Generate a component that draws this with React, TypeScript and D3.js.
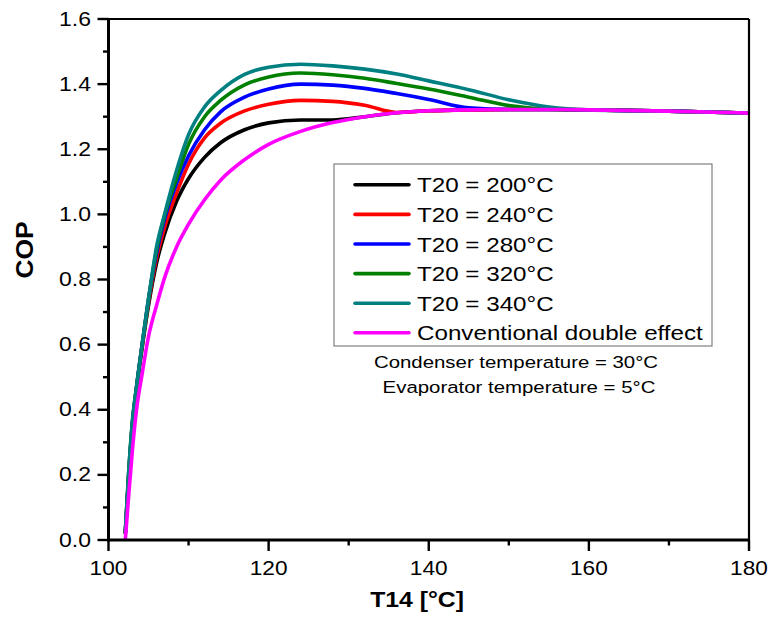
import React from "react";
import * as d3 from "d3";

const xs = [102.1, 102.5, 103, 103.5, 104.2, 105, 106, 107, 108.5, 110, 112, 114, 117, 120, 124, 128, 132, 136, 140, 145, 150, 155, 160, 170, 180];

const copT200 = [0.02, 0.18, 0.35, 0.46, 0.59, 0.72, 0.85, 0.94, 1.04, 1.11, 1.175, 1.22, 1.26, 1.281, 1.29, 1.29, 1.30, 1.312, 1.318, 1.321, 1.322, 1.322, 1.321, 1.317, 1.311];
const copT240 = [0.02, 0.19, 0.36, 0.465, 0.595, 0.73, 0.865, 0.96, 1.065, 1.155, 1.235, 1.28, 1.318, 1.338, 1.350, 1.347, 1.335, 1.313, 1.318, 1.321, 1.322, 1.322, 1.321, 1.317, 1.311];
const copT280 = [0.02, 0.19, 0.36, 0.47, 0.60, 0.74, 0.88, 0.985, 1.095, 1.18, 1.26, 1.315, 1.36, 1.385, 1.40, 1.397, 1.387, 1.371, 1.353, 1.327, 1.322, 1.322, 1.321, 1.317, 1.311];
const copT320 = [0.02, 0.20, 0.365, 0.47, 0.60, 0.74, 0.89, 0.995, 1.11, 1.215, 1.30, 1.35, 1.398, 1.422, 1.434, 1.429, 1.418, 1.402, 1.385, 1.36, 1.334, 1.323, 1.321, 1.317, 1.311];
const copT340 = [0.03, 0.20, 0.37, 0.47, 0.60, 0.74, 0.90, 1.00, 1.135, 1.245, 1.33, 1.38, 1.43, 1.452, 1.461, 1.456, 1.446, 1.431, 1.41, 1.383, 1.352, 1.33, 1.321, 1.317, 1.311];
const copConv = [0, 0.13, 0.28, 0.40, 0.51, 0.625, 0.72, 0.805, 0.90, 0.97, 1.045, 1.105, 1.168, 1.215, 1.255, 1.282, 1.300, 1.312, 1.318, 1.321, 1.322, 1.322, 1.321, 1.317, 1.311];

const seriesNames = ["T20 = 200°C", "T20 = 240°C", "T20 = 280°C", "T20 = 320°C", "T20 = 340°C", "Conventional double effect"];
const seriesValues = [copT200, copT240, copT280, copT320, copT340, copConv];
const seriesColors = ["#000000", "#ff0000", "#0000ff", "#008000", "#008080", "#ff00ff"];

const xTicks = [100, 120, 140, 160, 180];
const xMinor = [110, 130, 150, 170];
const yTicks = [0, 0.2, 0.4, 0.6, 0.8, 1.0, 1.2, 1.4, 1.6];
const yMinor = [0.1, 0.3, 0.5, 0.7, 0.9, 1.1, 1.3, 1.5];
const notes = ["Condenser temperature = 30°C", "Evaporator temperature = 5°C"];

const W = 771, H = 617;
const L = 108.5, R = 749, T = 19, B = 540;
const FONT = "'Liberation Sans', Arial, sans-serif";

function SText({ x, y, sx = 1.1, anchor = "start", size, bold = false, children, rotate = 0 }:
  { x: number; y: number; sx?: number; anchor?: string; size: number; bold?: boolean; children: any; rotate?: number }) {
  return (
    <text transform={`translate(${x},${y}) rotate(${rotate}) scale(${sx},1)`} fontSize={size}
      fontWeight={bold ? "bold" : "normal"} textAnchor={anchor as any} fill="#000">{children}</text>
  );
}

export default function App() {
  const x = d3.scaleLinear().domain([100, 180]).range([L, R]);
  const y = d3.scaleLinear().domain([0, 1.6]).range([B, T]);
  const line = d3.line<[number, number]>()
    .x(d => x(d[0]))
    .y(d => y(d[1]))
    .curve(d3.curveMonotoneX);

  const legX = 334, legY = 164, legW = 378, legH = 182;
  const rowY = (i: number) => 184.8 + i * 29.6;

  return (
    <svg width={W} height={H} style={{ position: "absolute", left: 0, top: 0, background: "#fff" }} fontFamily={FONT}>
      <rect x={0} y={0} width={W} height={H} fill="#fff" />
      <defs>
        <clipPath id="plot">
          <rect x={L} y={T - 5} width={R - L} height={B - T + 5} />
        </clipPath>
      </defs>
      <g clipPath="url(#plot)">
        {seriesValues.map((vals, i) => (
          <path key={i}
            d={line(xs.map((xv, j) => [xv, vals[j]] as [number, number])) || ""}
            fill="none" stroke={seriesColors[i]} strokeWidth={3.6} strokeLinejoin="round" />
        ))}
      </g>
      {/* frame */}
      <line x1={L} x2={R} y1={T} y2={T} stroke="#000" strokeWidth={2.2} />
      <line x1={R} x2={R} y1={T} y2={B} stroke="#000" strokeWidth={2.2} />
      <line x1={L} x2={L} y1={T - 1} y2={B + 1.5} stroke="#000" strokeWidth={3} />
      <line x1={L - 1.5} x2={R + 1} y1={B} y2={B} stroke="#000" strokeWidth={3} />
      {/* x ticks */}
      {xTicks.map(t => (
        <g key={"xt" + t}>
          <line x1={x(t)} x2={x(t)} y1={B} y2={B + 11} stroke="#000" strokeWidth={2.4} />
          <SText x={x(t)} y={575} size={21} sx={1.08} anchor="middle">{t}</SText>
        </g>
      ))}
      {xMinor.map(t => (
        <line key={"xm" + t} x1={x(t)} x2={x(t)} y1={B} y2={B + 5.5} stroke="#000" strokeWidth={2.4} />
      ))}
      {/* y ticks */}
      {yTicks.map(t => (
        <g key={"yt" + t}>
          <line x1={L - 11} x2={L} y1={y(t)} y2={y(t)} stroke="#000" strokeWidth={2.4} />
          <SText x={91} y={y(t) + 6.5} size={20.5} sx={1.12} anchor="end">{t.toFixed(1)}</SText>
        </g>
      ))}
      {yMinor.map(t => (
        <line key={"ym" + t} x1={L - 5.5} x2={L} y1={y(t)} y2={y(t)} stroke="#000" strokeWidth={2.4} />
      ))}
      {/* axis titles */}
      <SText x={417} y={607} size={22.5} sx={1.1} bold anchor="middle">T14 [°C]</SText>
      <SText x={33} y={250} size={24} sx={1.1} bold anchor="middle" rotate={-90}>COP</SText>
      {/* legend */}
      <rect x={legX} y={legY} width={legW} height={legH} fill="#fff" stroke="#666" strokeWidth={1} />
      {seriesNames.map((n, i) => (
        <g key={"lg" + i}>
          <line x1={355} x2={409} y1={rowY(i)} y2={rowY(i)} stroke={seriesColors[i]} strokeWidth={3.6} strokeLinecap="round" />
          <SText x={417} y={rowY(i) + 7.5} size={20.5} sx={1.18}>{n}</SText>
        </g>
      ))}
      <SText x={516} y={368} size={17} sx={1.2} anchor="middle">{notes[0]}</SText>
      <SText x={519} y={393} size={17} sx={1.2} anchor="middle">{notes[1]}</SText>
    </svg>
  );
}
